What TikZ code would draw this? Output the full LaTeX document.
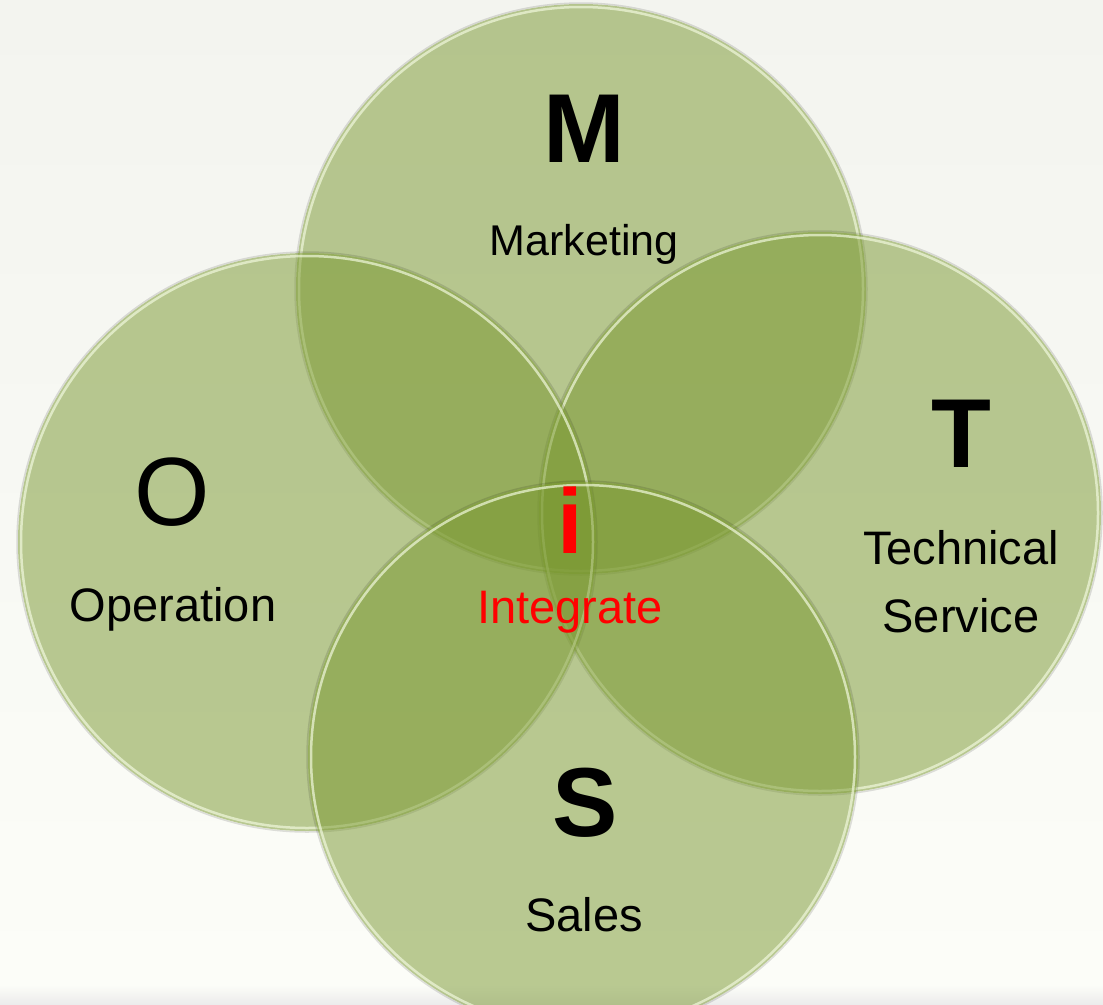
\documentclass[tikz,border=0pt]{standalone}
\usepackage{fontspec}
\setmainfont{Liberation Sans}
\usetikzlibrary{positioning}
\definecolor{LeafGreen}{RGB}{119,150,44}
\definecolor{RimLight}{RGB}{240,248,220}
\definecolor{SlideTop}{RGB}{243,244,239}
\definecolor{SlideBottom}{RGB}{252,253,248}
\tikzset{
  area/.style={fill=LeafGreen,fill opacity=0.5},
  rim/.style={draw=RimLight,draw opacity=0.7,line width=2.5pt},
  shadowline/.style={draw=black,draw opacity=0.12,line width=1.5pt},
  big/.style={font=\fontsize{98}{98}\selectfont\bfseries,anchor=base},
  word/.style={font=\fontsize{47}{68}\selectfont,anchor=base}
}

\begin{document}
\begin{tikzpicture}[x=1pt,y=-1pt]
  \useasboundingbox (0,0) rectangle (1103,1004);
  \shade[top color=SlideTop,bottom color=SlideBottom] (0,0) rectangle (1103,985);
  \shade[top color=SlideBottom,bottom color=gray!15] (0,985) rectangle (1103,1004);
  \begin{scope}
    \clip (0,0) rectangle (1103,1004);
    % circles in drawing order: M, T, O, S
    \foreach \cx/\cy/\r in {581/289/285, 820/513/281, 307/542/289, 583/757/275} {
      \fill[area] (\cx,\cy) circle[radius=\r pt];
      \draw[shadowline] (\cx,\cy) circle[radius={(\r+1)*1pt}];
      \draw[rim] (\cx,\cy) circle[radius={(\r-3)*1pt}];
    }
  \end{scope}

  \node[big] (m) at (584,162) {M};
  \node[word,font=\fontsize{43}{52}\selectfont] (marketing) at (584,255) {Marketing};
  \node[big,font=\fontsize{97}{97}\selectfont] (o) at (172,525) {O};
  \node[word] (operation) at (173,621) {Operation};
  \node[big] (t) at (961,467) {T};
  \node[word,anchor=center,align=center] (technical) at (961,582) {Technical\\Service};
  \node[big,text=red,font=\fontsize{92}{92}\selectfont\bfseries] (i) at (570,553) {i};
  \node[word,text=red] (integrate) at (570,623) {Integrate};
  \node[big] (s) at (585,836) {S};
  \node[word] (sales) at (584,931) {Sales};
\end{tikzpicture}
\end{document}
